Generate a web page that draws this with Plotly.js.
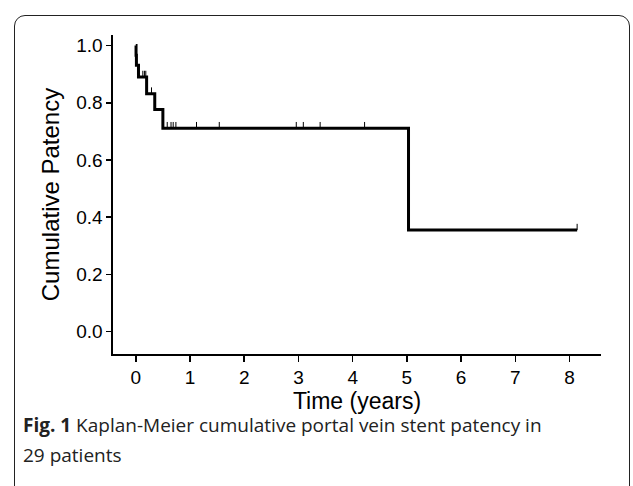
<!DOCTYPE html>
<html>
<head>
<meta charset="utf-8">
<script src="https://cdn.plot.ly/plotly-3.0.1.min.js"></script>
<style>
  html, body { margin: 0; padding: 0; background: #fff; }
  #wrap { position: relative; width: 633px; height: 486px; overflow: hidden; }
  #chart { position: absolute; left: 0; top: 0; width: 633px; height: 486px; }
  #frame { position: absolute; left: 14px; top: 15px; width: 616px; height: 520px;
           border: 1.3px solid #222; border-radius: 11px; pointer-events: none; box-sizing: border-box; }
</style>
</head>
<body>
<div id="wrap">
  <div id="chart"></div>
  <div id="frame"></div>
</div>
<script>
// Kaplan-Meier step curve (time in years, cumulative patency)
const stepTimes    = [0, 0.005, 0.012, 0.05, 0.20, 0.35, 0.50, 5.03, 8.14];
const stepSurvival = [1.0, 0.966, 0.931, 0.890, 0.832, 0.777, 0.711, 0.355, 0.355];
// Censored observations (times in years)
const censorTimes  = [0.06, 0.13, 0.16, 0.185, 0.29, 0.58, 0.65, 0.69, 0.74, 1.12, 1.54, 2.96, 3.09, 3.40, 4.22, 8.14];
// Axis ticks
const xTicks = [0, 1, 2, 3, 4, 5, 6, 7, 8];
const yTicks = [0.0, 0.2, 0.4, 0.6, 0.8, 1.0];
const yTickLabels = ["0.0", "0.2", "0.4", "0.6", "0.8", "1.0"];

const tickH = 0.022;
function survAt(t) {
  let s = stepSurvival[0];
  for (let i = 0; i < stepTimes.length; i++) { if (stepTimes[i] <= t) s = stepSurvival[i]; }
  return s;
}
const cx = [], cy = [];
censorTimes.forEach(t => { const s = survAt(t); cx.push(t, t, null); cy.push(s, s + tickH, null); });

const km = {
  x: stepTimes, y: stepSurvival, type: 'scatter', mode: 'lines',
  line: { shape: 'hv', color: '#000', width: 3 }, hoverinfo: 'skip', showlegend: false
};
const cens = {
  x: cx, y: cy, type: 'scatter', mode: 'lines',
  line: { color: '#000', width: 1 }, hoverinfo: 'skip', showlegend: false
};

const font = "'Liberation Sans', Arial, sans-serif";
const capFont = "'Open Sans', sans-serif";
const plotL = 113, plotR = 601, plotT = 35, plotB = 354;
const pw = plotR - plotL, ph = plotB - plotT;
function px2x(px) { return (px - plotL) / pw; }
function px2y(py) { return (plotB - py) / ph; }

const layout = {
  width: 633, height: 486,
  margin: { l: plotL, r: 633 - plotR, t: plotT, b: 486 - plotB },
  paper_bgcolor: 'rgba(0,0,0,0)', plot_bgcolor: 'rgba(0,0,0,0)',
  font: { family: font, color: '#000' },
  xaxis: {
    range: [-0.42, 8.58], tickvals: xTicks, ticktext: xTicks.map(String),
    showline: true, linecolor: '#000', linewidth: 1.6, showgrid: false, zeroline: false,
    ticks: 'outside', ticklen: 6, tickwidth: 1.6, tickcolor: '#000',
    tickfont: { size: 19, family: font, color: '#000' },
    title: { text: 'Time (years)', font: { size: 23, family: font, color: '#000' }, standoff: 2 }
  },
  yaxis: {
    range: [-0.078, 1.037], tickvals: yTicks, ticktext: yTickLabels,
    showline: true, linecolor: '#000', linewidth: 1.6, showgrid: false, zeroline: false,
    ticks: 'outside', ticklen: 5, tickwidth: 1.6, tickcolor: '#000',
    tickfont: { size: 19, family: font, color: '#000' },
    title: { text: 'Cumulative Patency', font: { size: 24, family: font, color: '#000' }, standoff: 10 }
  },
  annotations: [
    { xref: 'paper', yref: 'paper', x: px2x(21), y: px2y(425), xanchor: 'left', yanchor: 'middle',
      showarrow: false, align: 'left',
      text: '<b>Fig. 1</b> Kaplan-Meier cumulative portal vein stent patency in',
      font: { family: capFont, size: 19, color: '#222' } },
    { xref: 'paper', yref: 'paper', x: px2x(21), y: px2y(455), xanchor: 'left', yanchor: 'middle',
      showarrow: false, align: 'left',
      text: '29 patients',
      font: { family: capFont, size: 19, color: '#222' } }
  ]
};

Plotly.newPlot('chart', [km, cens], layout, { displayModeBar: false, staticPlot: true });
</script>
</body>
</html>
